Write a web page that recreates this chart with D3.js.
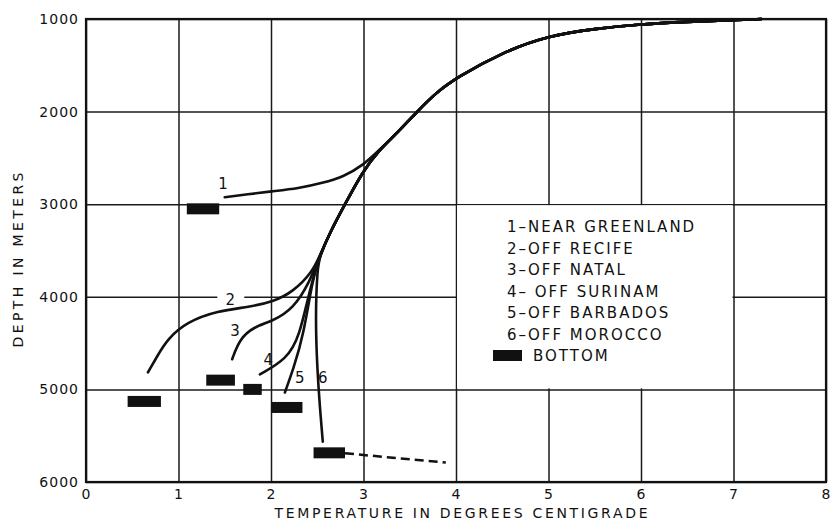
<!DOCTYPE html>
<html>
<head>
<meta charset="utf-8">
<script src="https://cdn.jsdelivr.net/npm/d3@7"></script>
<style>
  body { margin: 0; background: #fff; }
  text { font-family: "DejaVu Sans", sans-serif; fill: #111; }
</style>
</head>
<body>
<div id="chart"></div>
<script>
// axis ticks
const tempTicks = [0, 1, 2, 3, 4, 5, 6, 7, 8];
const depthTicks = [1000, 2000, 3000, 4000, 5000, 6000];

// common upper part of all profiles (deep water above the branch point)
const upperT = [7.3, 7.0, 6.5, 6.0, 5.5, 5.0, 4.5, 4.0, 3.78, 3.58, 3.38, 3.16];
const upperD = [1000, 1012, 1030, 1055, 1105, 1180, 1360, 1636, 1800, 2000, 2215, 2425];
// shared trunk of curves 2-6
const trunkT = [2.99, 2.80, 2.64, 2.53];
const trunkD = [2650, 3000, 3300, 3550];

// individual branches
const greenlandT = [3.0, 2.78, 2.56, 2.3, 2.0, 1.75, 1.5];
const greenlandD = [2576, 2706, 2770, 2830, 2862, 2893, 2925];
const recifeT = [2.45, 2.24, 2.02, 1.77, 1.42, 1.09, 0.88, 0.77, 0.67];
const recifeD = [3728, 3946, 4054, 4109, 4152, 4272, 4457, 4641, 4815];
const natalT = [2.42, 2.24, 2.02, 1.81, 1.66, 1.58];
const natalD = [3837, 4130, 4261, 4326, 4457, 4674];
const surinamT = [2.42, 2.31, 2.17, 1.88];
const surinamD = [3913, 4424, 4674, 4837];
const barbadosT = [2.45, 2.35, 2.24, 2.15];
const barbadosD = [3804, 4424, 4783, 5033];
const moroccoT = [2.50, 2.48, 2.50, 2.53, 2.56];
const moroccoD = [3696, 4239, 4783, 5217, 5565];

// bottom markers (temperature range, depth)
const bottomLo = [1.09, 0.45, 1.30, 1.70, 2.00, 2.46];
const bottomHi = [1.44, 0.81, 1.61, 1.90, 2.34, 2.80];
const bottomDepth = [3050, 5130, 4900, 5000, 5195, 5685];
// dashed continuation off Morocco
const extT = [2.80, 3.89];
const extD = [5690, 5790];

// curve number labels
const curveLabels = ["1", "2", "3", "4", "5", "6"];
const labelT = [1.48, 1.56, 1.61, 1.97, 2.31, 2.56];
const labelD = [2773, 4033, 4370, 4680, 4870, 4870];

const legendItems = ["1\u2013NEAR GREENLAND", "2\u2013OFF RECIFE", "3\u2013OFF NATAL",
  "4\u2013 OFF SURINAM", "5\u2013OFF BARBADOS", "6\u2013OFF MOROCCO"];
const legendBottom = "BOTTOM";

const W = 834, H = 520;
const margin = {top: 19, right: 8, bottom: 38, left: 86};
const width = W - margin.left - margin.right;
const height = H - margin.top - margin.bottom;

const svg = d3.select("#chart").append("svg")
  .attr("width", W).attr("height", H);
const g = svg.append("g")
  .attr("transform", "translate(" + margin.left + "," + margin.top + ")");

const x = d3.scaleLinear().domain([0, 8]).range([0, width]);
const y = d3.scaleLinear().domain([1000, 6000]).range([0, height]);

// grid + tick labels
const xAxis = g.append("g")
  .attr("transform", "translate(0," + height + ")")
  .call(d3.axisBottom(x).tickValues(tempTicks).tickSize(-height).tickPadding(7).tickFormat(d3.format("d")));
const yAxis = g.append("g")
  .call(d3.axisLeft(y).tickValues(depthTicks).tickSize(-width).tickPadding(7).tickFormat(d3.format("d")));
[xAxis, yAxis].forEach(a => {
  a.select(".domain").remove();
  a.selectAll(".tick line").attr("stroke", "#1a1a1a").attr("stroke-width", 1.5);
  a.selectAll(".tick text").style("font-size", "14px").attr("fill", "#111")
    .style("font-family", "DejaVu Sans, sans-serif").style("letter-spacing", "1px");
});

// blank cell for legend (4-7 degrees, 3000-5000 m)
g.append("rect")
  .attr("x", x(4) + 1).attr("y", y(3000) + 1)
  .attr("width", x(7) - x(4) - 2).attr("height", y(5000) - y(3000) - 2)
  .attr("fill", "#fff");

// frame
g.append("rect")
  .attr("width", width).attr("height", height)
  .attr("fill", "none").attr("stroke", "#111").attr("stroke-width", 2.2);

const line = d3.line()
  .x(d => x(d[0])).y(d => y(d[1]))
  .curve(d3.curveBasis);

const zip = (ts, ds) => ts.map((t, i) => [t, ds[i]]);
const upper = zip(upperT, upperD);
const trunk = zip(trunkT, trunkD);
const series = [
  upper.concat(zip(greenlandT, greenlandD)),
  upper.concat(trunk, zip(recifeT, recifeD)),
  upper.concat(trunk, zip(natalT, natalD)),
  upper.concat(trunk, zip(surinamT, surinamD)),
  upper.concat(trunk, zip(barbadosT, barbadosD)),
  upper.concat(trunk, zip(moroccoT, moroccoD))
];

g.selectAll(".profile")
  .data(series)
  .enter()
  .append("path")
  .attr("class", "profile")
  .attr("d", line)
  .attr("fill", "none")
  .attr("stroke", "#111")
  .attr("stroke-width", 2.6)
  .attr("stroke-linecap", "round");

// dashed extension
g.append("path")
  .attr("d", d3.line().x(d => x(d[0])).y(d => y(d[1]))(zip(extT, extD)))
  .attr("fill", "none").attr("stroke", "#111").attr("stroke-width", 2.5)
  .attr("stroke-dasharray", "9,5");

// bottom markers
const markH = 11;
g.selectAll(".bottom")
  .data(bottomDepth)
  .enter()
  .append("rect")
  .attr("class", "bottom")
  .attr("x", (d, i) => x(bottomLo[i]))
  .attr("y", d => y(d) - markH / 2)
  .attr("width", (d, i) => x(bottomHi[i]) - x(bottomLo[i]))
  .attr("height", markH)
  .attr("fill", "#111");

// curve labels (2 sits on the 4000 m grid line, knocked out)
const lab = g.selectAll(".clabel")
  .data(curveLabels)
  .enter()
  .append("g")
  .attr("class", "clabel")
  .attr("transform", (d, i) => "translate(" + x(labelT[i]) + "," + y(labelD[i]) + ")");
lab.filter(d => d === "2").append("rect")
  .attr("x", -13).attr("y", -6).attr("width", 27).attr("height", 12).attr("fill", "#fff");
lab.append("text")
  .attr("text-anchor", "middle")
  .attr("dy", "0.36em")
  .style("font-size", "15px")
  .text(d => d);

// legend
const lg = g.append("g").attr("transform", "translate(" + (507 - margin.left) + "," + (232 - margin.top) + ")");
lg.selectAll("text.item")
  .data(legendItems)
  .enter()
  .append("text")
  .attr("class", "item")
  .attr("y", (d, i) => i * 21.5)
  .style("font-size", "15px")
  .style("letter-spacing", "2px")
  .text(d => d);
lg.append("rect")
  .attr("x", -14).attr("y", 6 * 21.5 - 11)
  .attr("width", 29).attr("height", 11)
  .attr("fill", "#111");
lg.append("text")
  .attr("x", 26).attr("y", 6 * 21.5)
  .style("font-size", "15px")
  .style("letter-spacing", "2px")
  .text(legendBottom);

// axis titles
svg.append("text")
  .attr("x", 461).attr("y", 518)
  .attr("text-anchor", "middle")
  .attr("textLength", 373).attr("lengthAdjust", "spacing")
  .style("font-size", "14px")
  .text("TEMPERATURE IN DEGREES CENTIGRADE");
svg.append("text")
  .attr("transform", "translate(23,260) rotate(-90)")
  .attr("text-anchor", "middle")
  .attr("textLength", 175).attr("lengthAdjust", "spacing")
  .style("font-size", "14px")
  .text("DEPTH IN METERS");
</script>
</body>
</html>
